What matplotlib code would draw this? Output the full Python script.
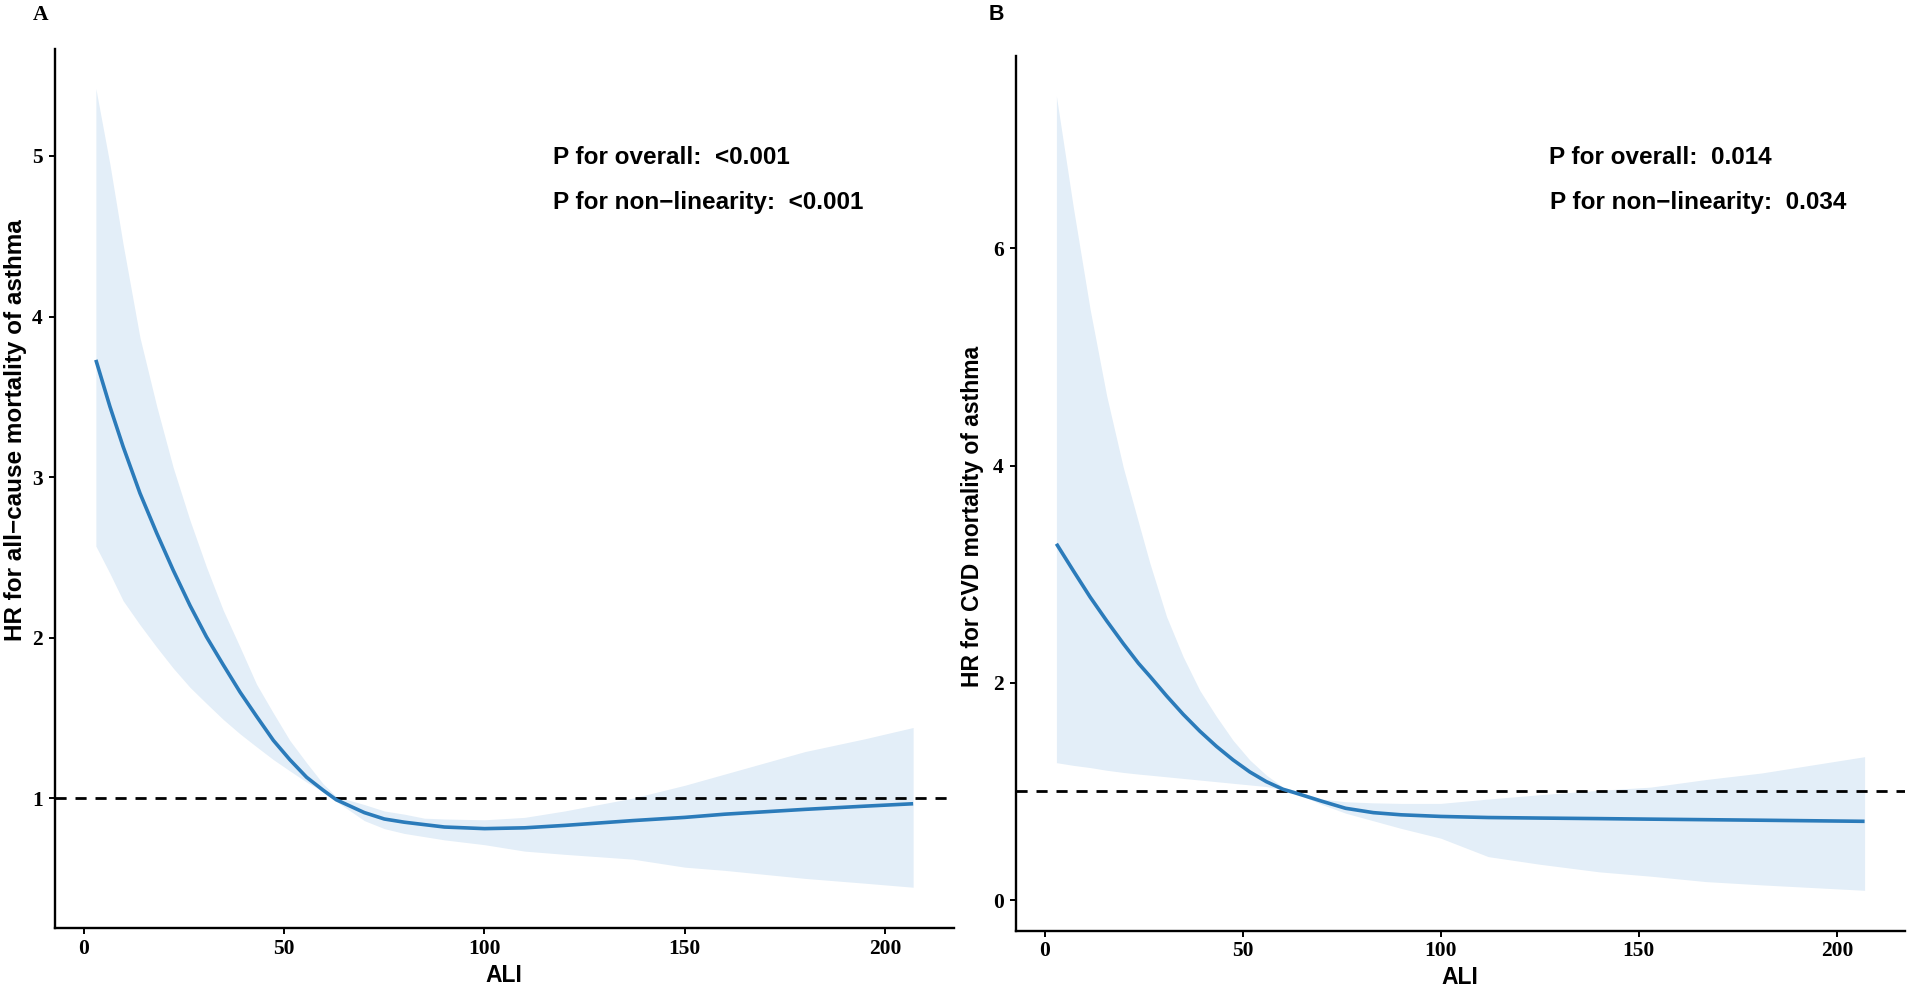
import matplotlib
matplotlib.use("Agg")
import matplotlib.pyplot as plt

# values (ALI, HR, lower CI, upper CI)
ali_a = [3, 6.5, 9.8, 14, 18.2, 22.3, 26.5, 30.6, 34.8, 39, 43.1, 47.3, 51.4, 55.6, 59.7, 63,
         70, 75, 80, 85, 90, 100, 110, 120, 137, 150, 160, 180, 195, 207]
hr_a = [3.73, 3.44, 3.19, 2.90, 2.65, 2.42, 2.20, 2.005, 1.83, 1.66, 1.51, 1.36, 1.24, 1.13, 1.05, 0.99,
        0.91, 0.87, 0.85, 0.835, 0.82, 0.81, 0.815, 0.83, 0.86, 0.88, 0.90, 0.93, 0.95, 0.965]
lo_a = [2.57, 2.40, 2.23, 2.08, 1.94, 1.81, 1.69, 1.59, 1.49, 1.40, 1.32, 1.24, 1.17, 1.10, 1.04, 0.98,
        0.86, 0.81, 0.78, 0.76, 0.74, 0.71, 0.67, 0.65, 0.62, 0.57, 0.55, 0.50, 0.47, 0.445]
hi_a = [5.42, 4.95, 4.45, 3.87, 3.44, 3.06, 2.73, 2.44, 2.17, 1.94, 1.71, 1.53, 1.36, 1.22, 1.09, 1.01,
        0.96, 0.92, 0.90, 0.875, 0.87, 0.865, 0.88, 0.92, 1.00, 1.08, 1.15, 1.29, 1.37, 1.44]

ali_b = [3, 7.3, 11.5, 15.7, 19.9, 23.7, 26.6, 30.8, 35, 39.2, 43.4, 47.6, 51.8, 56, 60.2, 63,
         70, 76, 83, 90, 100, 112, 125, 140, 153, 167, 181, 207]
hr_b = [3.28, 3.03, 2.79, 2.57, 2.36, 2.18, 2.06, 1.88, 1.71, 1.555, 1.415, 1.29, 1.18, 1.09, 1.02, 0.99,
        0.91, 0.845, 0.805, 0.785, 0.77, 0.76, 0.755, 0.75, 0.745, 0.74, 0.735, 0.725]
lo_b = [1.265, 1.24, 1.22, 1.195, 1.175, 1.16, 1.15, 1.135, 1.12, 1.105, 1.09, 1.075, 1.06, 1.045, 1.015, 0.99,
        0.88, 0.80, 0.73, 0.66, 0.57, 0.40, 0.33, 0.26, 0.22, 0.17, 0.14, 0.09]
hi_b = [7.40, 6.37, 5.44, 4.64, 3.98, 3.48, 3.10, 2.61, 2.24, 1.93, 1.69, 1.47, 1.29, 1.15, 1.04, 1.01,
        0.93, 0.905, 0.895, 0.89, 0.89, 0.93, 0.97, 1.01, 1.04, 1.11, 1.17, 1.32]

x_ticks = [0, 50, 100, 150, 200]
y_ticks_a = [1, 2, 3, 4, 5]
y_ticks_b = [0, 2, 4, 6]

LINE_COLOR = "#2b7bba"
BAND_COLOR = "#e3eef8"
SANS = "Liberation Sans"
SERIF = "Liberation Serif"

W, H = 1907, 989
fig = plt.figure(figsize=(W / 100, H / 100), dpi=100)


def px(x, y):
    return x / W, 1 - y / H


def panel(rect, ali, hr, lo, hi, yticks, ylim):
    ax = fig.add_axes(rect)
    ax.fill_between(ali, lo, hi, color=BAND_COLOR, linewidth=0)
    ax.axhline(1, color="black", linewidth=2, dashes=(4, 3.2))
    ax.plot(ali, hr, color=LINE_COLOR, linewidth=2.6, solid_capstyle="butt", solid_joinstyle="round")
    ax.set_xlim(-7.2, 217.2)
    ax.set_ylim(*ylim)
    ax.set_xticks(x_ticks)
    ax.set_yticks(yticks)
    for s in ("top", "right"):
        ax.spines[s].set_visible(False)
    for s in ("left", "bottom"):
        ax.spines[s].set_linewidth(1.7)
        ax.spines[s].set_color("black")
    ax.tick_params(length=4.3, width=1.4, color="black", labelsize=15.5)
    ax.tick_params(axis="y", pad=4.5)
    ax.tick_params(axis="x", pad=3.5)
    for lab in ax.get_xticklabels() + ax.get_yticklabels():
        lab.set_fontfamily(SERIF)
        lab.set_fontweight("bold")
    return ax


axA = panel([55 / W, 1 - 928 / H, 899 / W, 879.4 / H], ali_a, hr_a, lo_a, hi_a,
            y_ticks_a, (0.191, 5.669))
axB = panel([1016 / W, 1 - 930.5 / H, 889 / W, 874.5 / H], ali_b, hr_b, lo_b, hi_b,
            y_ticks_b, (-0.28, 7.77))

txt = dict(fontsize=17.5, fontweight="bold", family=SANS, va="center", ha="left")
fig.text(*px(553, 158), "P for overall:  <0.001", **txt)
fig.text(*px(553, 203), "P for non\u2212linearity:  <0.001", **txt)
fig.text(*px(1549, 158), "P for overall:  0.014", **txt)
fig.text(*px(1550, 203), "P for non\u2212linearity:  0.034", **txt)

lab = dict(fontweight="bold", family=SANS, va="center", ha="center")
fig.text(*px(504, 976), "ALI", fontsize=16.5, **lab)
fig.text(*px(1460, 977), "ALI", fontsize=16.5, **lab)
fig.text(*px(16, 430), "HR for all\u2212cause mortality of asthma", rotation=90, fontsize=17.5, **lab)
fig.text(*px(973, 516), "HR for CVD mortality of asthma", rotation=90, fontsize=16.5, **lab)

fig.text(*px(41, 15), "A", fontsize=15.5, fontweight="bold", family=SERIF, va="center", ha="center")
fig.text(*px(996, 14), "B", fontsize=15.5, fontweight="bold", family=SANS, va="center", ha="center")

fig.savefig("out.png", dpi=100)
